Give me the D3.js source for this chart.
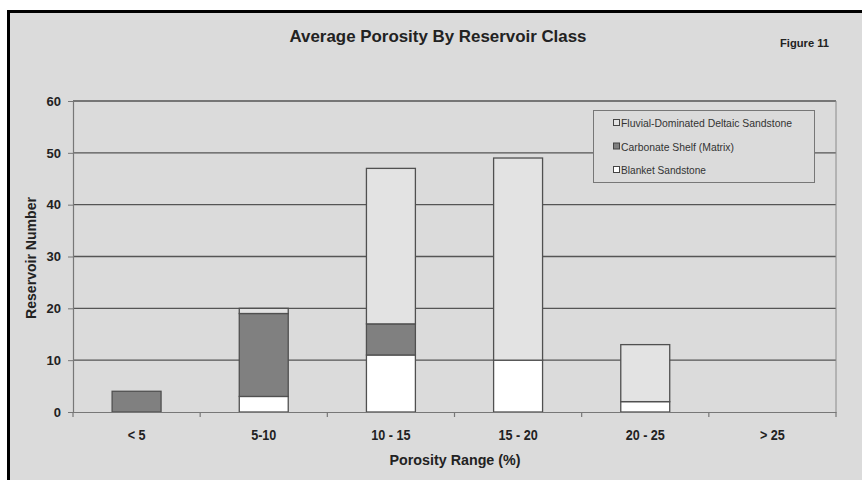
<!DOCTYPE html>
<html>
<head>
<meta charset="utf-8">
<script src="https://cdn.jsdelivr.net/npm/d3@7/dist/d3.min.js"></script>
<style>
  html, body { margin: 0; padding: 0; background: #ffffff; }
  svg { display: block; font-family: "Liberation Sans", Arial, sans-serif; }
</style>
</head>
<body>
<svg id="chart" width="862" height="480"></svg>
<script>
// Porosity classes along the x axis
const categories = ["< 5", "5-10", "10 - 15", "15 - 20", "20 - 25", "> 25"];
// Reservoir counts per class, one array per reservoir type (stacked bottom to top)
const blanketSandstone = [0, 3, 11, 10, 2, 0];
const carbonateShelf   = [4, 16, 6, 0, 0, 0];
const fluvialDeltaic   = [0, 1, 30, 39, 11, 0];
const yTicks = [0, 10, 20, 30, 40, 50, 60];

const seriesNames = ["Blanket Sandstone", "Carbonate Shelf (Matrix)", "Fluvial-Dominated Deltaic Sandstone"];
const seriesFill = ["#ffffff", "#808080", "#e3e3e3"];
// Legend lists the series top of stack first
const legendOrder = [2, 1, 0];
const legendWidths = [85, 113, 171];

const svg = d3.select("#chart");
const W = 862, H = 480;
const bg = "#dbdbdb";
const font = "Liberation Sans, Arial, sans-serif";

// Outer frame
svg.append("rect")
  .attr("x", 8.5).attr("y", 11.5)
  .attr("width", W + 20).attr("height", H + 20)
  .attr("fill", bg).attr("stroke", "#000").attr("stroke-width", 3);

const plot = { left: 73, right: 836, top: 101, bottom: 412 };

const x = d3.scaleBand().domain(categories)
  .range([plot.left, plot.right]).paddingInner(0.615).paddingOuter(0.3075);
const y = d3.scaleLinear().domain([0, 60]).range([plot.bottom, plot.top]);

// Stacked data
const table = categories.map((c, i) => ({
  cat: c, s0: blanketSandstone[i], s1: carbonateShelf[i], s2: fluvialDeltaic[i]
}));
const stack = d3.stack().keys(["s0", "s1", "s2"])(table);

// Horizontal gridlines
svg.append("g").selectAll("line")
  .data(yTicks.filter(t => t > 0))
  .join("line")
  .attr("x1", plot.left).attr("x2", plot.right)
  .attr("y1", d => y(d)).attr("y2", d => y(d))
  .attr("stroke", "#555").attr("stroke-width", 1.4);

// Right edge of plot area
svg.append("line")
  .attr("x1", plot.right).attr("x2", plot.right)
  .attr("y1", plot.top).attr("y2", plot.bottom)
  .attr("stroke", "#8a8a8a").attr("stroke-width", 1);

// Bars
stack.forEach((layer, k) => {
  svg.append("g").selectAll("rect")
    .data(layer.filter(d => d[1] - d[0] > 0))
    .join("rect")
    .attr("x", d => x(d.data.cat))
    .attr("width", x.bandwidth())
    .attr("y", d => y(d[1]))
    .attr("height", d => y(d[0]) - y(d[1]))
    .attr("fill", seriesFill[k])
    .attr("stroke", "#505050").attr("stroke-width", 1.3);
});

// Y axis
const yAxis = svg.append("g")
  .attr("transform", `translate(${plot.left},0)`)
  .call(d3.axisLeft(y).tickValues(yTicks).tickSize(5).tickPadding(7).tickFormat(d3.format("d")));
yAxis.select(".domain").attr("stroke", "#777").attr("stroke-width", 1.2);
yAxis.selectAll(".tick line").attr("stroke", "#777");
yAxis.selectAll("text").attr("font-size", 13).attr("font-weight", "bold")
  .attr("fill", "#222").attr("font-family", font);

// X axis, with tick marks at category boundaries
const xAxis = svg.append("g")
  .attr("transform", `translate(0,${plot.bottom})`)
  .call(d3.axisBottom(x).tickSize(0).tickPadding(18));
xAxis.select(".domain").attr("stroke", "#777").attr("stroke-width", 1.2);
xAxis.selectAll("text").attr("font-size", 14).attr("font-weight", "bold")
  .attr("fill", "#222").attr("font-family", font)
  .attr("transform", "scale(0.9,1)");
svg.append("g").selectAll("line")
  .data(d3.range(categories.length + 1))
  .join("line")
  .attr("x1", i => plot.left + i * (plot.right - plot.left) / categories.length)
  .attr("x2", i => plot.left + i * (plot.right - plot.left) / categories.length)
  .attr("y1", plot.bottom).attr("y2", plot.bottom + 5)
  .attr("stroke", "#777").attr("stroke-width", 1.2);

// Titles
svg.append("text")
  .attr("x", 438).attr("y", 42)
  .attr("text-anchor", "middle")
  .attr("font-size", 16.5).attr("font-weight", "bold").attr("fill", "#222")
  .attr("textLength", 297).attr("lengthAdjust", "spacingAndGlyphs")
  .text("Average Porosity By Reservoir Class");

svg.append("text")
  .attr("x", 780).attr("y", 47)
  .attr("font-size", 11.5).attr("font-weight", "bold").attr("fill", "#222")
  .attr("textLength", 49).attr("lengthAdjust", "spacingAndGlyphs")
  .text("Figure 11");

svg.append("text")
  .attr("x", 455).attr("y", 465)
  .attr("text-anchor", "middle")
  .attr("font-size", 14).attr("font-weight", "bold").attr("fill", "#222")
  .attr("textLength", 131).attr("lengthAdjust", "spacingAndGlyphs")
  .text("Porosity Range (%)");

svg.append("text")
  .attr("transform", "translate(36,258) rotate(-90)")
  .attr("text-anchor", "middle")
  .attr("font-size", 14).attr("font-weight", "bold").attr("fill", "#222")
  .attr("textLength", 122).attr("lengthAdjust", "spacingAndGlyphs")
  .text("Reservoir Number");

// Legend
const lg = svg.append("g");
lg.append("rect")
  .attr("x", 593.5).attr("y", 110.5).attr("width", 221).attr("height", 72)
  .attr("fill", bg).attr("stroke", "#777").attr("stroke-width", 1);
legendOrder.forEach((k, i) => {
  const cy = 123 + i * 23.5;
  lg.append("rect")
    .attr("x", 613.5).attr("y", cy - 3.5).attr("width", 6).attr("height", 6)
    .attr("fill", seriesFill[k]).attr("stroke", "#444").attr("stroke-width", 1);
  lg.append("text")
    .attr("x", 621).attr("y", cy + 4)
    .attr("font-size", 11).attr("fill", "#333")
    .attr("textLength", legendWidths[k]).attr("lengthAdjust", "spacingAndGlyphs")
    .text(seriesNames[k]);
});
</script>
</body>
</html>
